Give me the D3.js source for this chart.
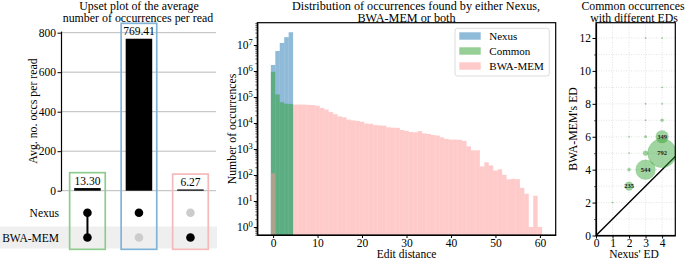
<!DOCTYPE html>
<html>
<head>
<meta charset="utf-8">
<script src="https://cdn.jsdelivr.net/npm/d3@7"></script>
<style>
  body { margin: 0; background: #fff; }
  svg { display: block; font-family: "Liberation Serif", "Times New Roman", serif; }
  svg text { font-family: "Liberation Serif", "Times New Roman", serif; }
  .domain { stroke: #000; }
  .tick line { stroke: #000; }
  .tick text { fill: #000; }
</style>
</head>
<body>
<div id="chart"></div>
<script>
// data

// left: upset plot
const upsetSets = ["Nexus", "BWA-MEM"];
const upsetGroups = ["Common", "Nexus only", "BWA-MEM only"];
const upsetMembers = [["Nexus", "BWA-MEM"], ["Nexus"], ["BWA-MEM"]];
const upsetAvg = [13.30, 769.41, 6.27];
const upsetColors = ["#8ecb8e", "#80b3d8", "#f6b9b9"];
const upsetTicks = [0, 200, 400, 600, 800];

// middle: histogram of edit distances (bins 0..60)
const editDistances = d3.range(0, 61);
const nexusCounts = [1700000, 5900000, 12000000, 20000000, 31000000];
const commonCounts = [930000, 126000, 63000, 55000, 54000];
const bwaCounts = [
  117, 0, 0, 0, 0, 51000, 51000, 51000, 50000, 49000,
  45700, 38000, 33000, 26300, 21900, 17800, 16600, 13500, 12600, 12000,
  11200, 9500, 9300, 8300, 8100, 7900, 6800, 6600, 6500, 5400,
  5000, 4500, 4400, 4900, 4000, 3800, 3470, 3300, 2800, 2450,
  2300, 2300, 2250, 2050, 1260, 890, 890, 214, 309, 234,
  148, 166, 102, 68, 71, 69, 32, 19, 1, 16,
  1
];
const histTicksX = [0, 10, 20, 30, 40, 50, 60];
const histTicksY = [1, 10, 100, 1000, 10000, 100000, 1000000, 10000000];
const histSeries = ["Nexus", "Common", "BWA-MEM"];
const histColors = ["#1f77b4", "#2ca02c", "#ff9896"];

// right: common occurrences with different EDs
const edNexus = [1, 2, 2, 2, 2, 3, 3, 3, 3, 3, 3, 4, 4, 4, 4, 4, 4];
const edBwa   = [2, 3, 4, 5, 6, 4, 5, 6, 7, 8, 12, 5, 6, 7, 8, 9, 12];
const edCount = [40, 235, 85, 35, 35, 544, 137, 66, 40, 40, 40, 792, 349, 82, 40, 40, 40];
const edLabelled = [235, 544, 349, 792];
const edTicksX = [0, 1, 2, 3, 4];
const edTicksY = [0, 2, 4, 6, 8, 10, 12];

// svg

const width = 685;
const height = 259;

const svg = d3.select("#chart")
  .append("svg")
  .attr("width", width)
  .attr("height", height)
  .attr("viewBox", [0, 0, width, height]);

const fs = 11.8;
const tickFs = 11.5;

function title(lines, xs, ys, size) {
  lines.forEach((t, i) => {
    svg.append("text")
      .attr("x", xs[i])
      .attr("y", ys[i])
      .attr("text-anchor", "middle")
      .attr("font-size", size)
      .text(t);
  });
}

function yLabel(t, x, y) {
  svg.append("text")
    .attr("transform", `translate(${x},${y}) rotate(-90)`)
    .attr("text-anchor", "middle")
    .attr("dy", "0.35em")
    .attr("font-size", fs)
    .text(t);
}

function styleAxis(g) {
  g.attr("font-family", null).attr("font-size", tickFs);
  g.selectAll(".tick text").attr("font-size", tickFs);
  g.selectAll(".domain").attr("stroke-width", 1.2);
}

// ---------- left panel: upset plot ----------

const yUp = d3.scaleLinear().domain([0, 808]).range([190.7, 31.1]);
const xUp = d3.scaleBand()
  .domain(upsetGroups)
  .range([61.7, 216.2])
  .paddingInner(0.485)
  .paddingOuter(0.2425);
const yRow = d3.scalePoint().domain(upsetSets).range([212.7, 237.5]);

// grey band behind the second row
svg.append("rect")
  .attr("x", 0)
  .attr("y", yRow("BWA-MEM") - 11)
  .attr("width", 217)
  .attr("height", 22)
  .attr("fill", "#efefef");

// grid
svg.append("g")
  .selectAll("line")
  .data(upsetTicks)
  .join("line")
  .attr("x1", 61)
  .attr("x2", 216)
  .attr("y1", d => yUp(d))
  .attr("y2", d => yUp(d))
  .attr("stroke", "#b3b3b3")
  .attr("stroke-width", 0.9);

svg.append("g")
  .attr("transform", "translate(61,0)")
  .call(d3.axisLeft(yUp).tickValues(upsetTicks).tickSize(3.5).tickSizeOuter(0).tickPadding(1.5))
  .call(styleAxis);

// bars
svg.selectAll("rect.upbar")
  .data(upsetGroups)
  .join("rect")
  .attr("class", "upbar")
  .attr("x", d => xUp(d))
  .attr("y", (d, i) => yUp(upsetAvg[i]))
  .attr("width", xUp.bandwidth())
  .attr("height", (d, i) => yUp(0) - yUp(upsetAvg[i]))
  .attr("fill", "#000");

svg.selectAll("text.uplabel")
  .data(upsetGroups)
  .join("text")
  .attr("class", "uplabel")
  .attr("x", d => xUp(d) + xUp.bandwidth() / 2)
  .attr("y", (d, i) => yUp(upsetAvg[i]) - 3.5)
  .attr("text-anchor", "middle")
  .attr("font-size", tickFs)
  .text((d, i) => upsetAvg[i].toFixed(2));

// outline boxes
svg.selectAll("rect.upbox")
  .data(upsetGroups)
  .join("rect")
  .attr("class", "upbox")
  .attr("x", d => xUp(d) + xUp.bandwidth() / 2 - 17.8)
  .attr("y", (d, i) => yUp(upsetAvg[i]) - 15.4)
  .attr("width", 35.6)
  .attr("height", (d, i) => 249.3 - (yUp(upsetAvg[i]) - 15.4))
  .attr("fill", "none")
  .attr("stroke", (d, i) => upsetColors[i])
  .attr("stroke-width", 1.7);

// matrix
upsetGroups.forEach((g, i) => {
  const cx = xUp(g) + xUp.bandwidth() / 2;
  const mem = upsetMembers[i];
  if (mem.length > 1) {
    svg.append("line")
      .attr("x1", cx).attr("x2", cx)
      .attr("y1", yRow(mem[0])).attr("y2", yRow(mem[mem.length - 1]))
      .attr("stroke", "#000")
      .attr("stroke-width", 2);
  }
  upsetSets.forEach(s => {
    svg.append("circle")
      .attr("cx", cx)
      .attr("cy", yRow(s))
      .attr("r", 4.3)
      .attr("fill", mem.includes(s) ? "#000" : "#cccccc");
  });
});

svg.selectAll("text.rowlabel")
  .data(upsetSets)
  .join("text")
  .attr("class", "rowlabel")
  .attr("x", 59)
  .attr("y", d => yRow(d) + 4)
  .attr("text-anchor", "end")
  .attr("font-size", tickFs)
  .text(d => d);

title(["Upset plot of the average", "number of occurrences per read"], [139, 138], [9.6, 22], 11.9);
yLabel("Avg. no. occs per read", 33, 111);

// ---------- middle panel: histogram ----------

const hx = d3.scaleLinear().domain([-3.55, 63.55]).range([257.3, 555.7]);
const hy = d3.scaleLog().domain([Math.pow(10, -0.308), Math.pow(10, 7.858)]).range([235, 22.7]);

const histData = [nexusCounts, commonCounts, bwaCounts];

svg.append("clipPath")
  .attr("id", "histClip")
  .append("rect")
  .attr("x", hx.range()[0]).attr("y", hy.range()[1])
  .attr("width", hx.range()[1] - hx.range()[0])
  .attr("height", hy.range()[0] - hy.range()[1]);

const gHist = svg.append("g").attr("clip-path", "url(#histClip)");

histData.forEach((counts, s) => {
  gHist.append("g")
    .selectAll("rect")
    .data(editDistances.filter(ed => counts[ed] > 0))
    .join("rect")
    .attr("x", ed => hx(ed - 0.5))
    .attr("width", ed => hx(ed + 0.5) - hx(ed - 0.5))
    .attr("y", ed => hy(counts[ed]))
    .attr("height", ed => hy.range()[0] - hy(counts[ed]))
    .attr("fill", histColors[s])
    .attr("fill-opacity", 0.5);
});

// minor ticks on the log axis
const minorY = [];
for (let e = -1; e <= 7; e++) {
  for (let m = 2; m <= 9; m++) {
    const v = m * Math.pow(10, e);
    if (v >= hy.domain()[0] && v <= hy.domain()[1]) minorY.push(v);
  }
}

svg.append("g")
  .attr("transform", `translate(${hx.range()[0]},0)`)
  .call(d3.axisLeft(hy).tickValues(minorY).tickSize(2).tickFormat("").tickSizeOuter(0))
  .call(g => g.select(".domain").remove())
  .call(g => g.selectAll(".tick line").attr("stroke-width", 0.6));

const gHy = svg.append("g")
  .attr("transform", `translate(${hx.range()[0]},0)`)
  .call(d3.axisLeft(hy).tickValues(histTicksY).tickSize(3.5).tickSizeOuter(0).tickPadding(1).tickFormat(""))
  .call(styleAxis);

gHy.selectAll(".tick text")
  .attr("dy", "0.32em")
  .each(function (d) {
    const t = d3.select(this);
    t.append("tspan").text("10");
    t.append("tspan")
      .attr("dy", "-0.45em")
      .attr("font-size", 8.5)
      .text(Math.round(Math.log10(d)));
  });

svg.append("g")
  .attr("transform", `translate(0,${hy.range()[0]})`)
  .call(d3.axisBottom(hx).tickValues(histTicksX).tickSize(3).tickSizeOuter(0).tickPadding(0.5))
  .call(styleAxis);

// frame
svg.append("rect")
  .attr("x", hx.range()[0]).attr("y", hy.range()[1])
  .attr("width", hx.range()[1] - hx.range()[0])
  .attr("height", hy.range()[0] - hy.range()[1])
  .attr("fill", "none")
  .attr("stroke", "#000")
  .attr("stroke-width", 1.2);

// legend
const lg = svg.append("g").attr("transform", "translate(455,28.3)");
lg.append("rect")
  .attr("width", 94.3).attr("height", 47.7)
  .attr("rx", 2.5)
  .attr("fill", "#fff").attr("fill-opacity", 0.8)
  .attr("stroke", "#d3d3d3").attr("stroke-width", 0.8);
histSeries.forEach((name, i) => {
  lg.append("rect")
    .attr("x", 4.3).attr("y", 7.7 + i * 15 - 3.7)
    .attr("width", 21.4).attr("height", 7.4)
    .attr("fill", histColors[i]).attr("fill-opacity", 0.5);
  lg.append("text")
    .attr("x", 34.3).attr("y", 7.7 + i * 15 + 3.8)
    .attr("font-size", 11)
    .text(name);
});

title(["Distribution of occurrences found by either Nexus,", "BWA-MEM or both"], [416, 406.5], [9.6, 22], 12.2);
yLabel("Number of occurrences", 231.5, 129);
svg.append("text")
  .attr("x", 406.5).attr("y", 258.3)
  .attr("text-anchor", "middle")
  .attr("font-size", 11.5)
  .text("Edit distance");

// ---------- right panel: ED scatter ----------

const ex = d3.scaleLinear().domain([0, 4.8]).range([596, 675.3]);
const ey = d3.scaleLinear().domain([0, 12.93]).range([235.5, 22.7]);
const er = d3.scaleLinear().domain([0, 792]).range([0, 14.4]);

svg.append("clipPath")
  .attr("id", "edClip")
  .append("rect")
  .attr("x", ex.range()[0]).attr("y", ey.range()[1])
  .attr("width", ex.range()[1] - ex.range()[0])
  .attr("height", ey.range()[0] - ey.range()[1]);

const gEd = svg.append("g").attr("clip-path", "url(#edClip)");

gEd.append("g")
  .selectAll("line")
  .data(edTicksX)
  .join("line")
  .attr("x1", d => ex(d)).attr("x2", d => ex(d))
  .attr("y1", ey.range()[0]).attr("y2", ey.range()[1])
  .attr("stroke", "#d9d9d9").attr("stroke-width", 0.7)
  .attr("stroke-dasharray", "1,1.5");

gEd.append("g")
  .selectAll("line")
  .data(d3.range(0, 13))
  .join("line")
  .attr("x1", ex.range()[0]).attr("x2", ex.range()[1])
  .attr("y1", d => ey(d)).attr("y2", d => ey(d))
  .attr("stroke", "#d9d9d9").attr("stroke-width", 0.7)
  .attr("stroke-dasharray", "1,1.5");

gEd.append("line")
  .attr("x1", ex(0)).attr("y1", ey(0))
  .attr("x2", ex(4.8)).attr("y2", ey(4.8))
  .attr("stroke", "#000")
  .attr("stroke-width", 1.4);

gEd.selectAll("circle")
  .data(edCount)
  .join("circle")
  .attr("cx", (d, i) => ex(edNexus[i]))
  .attr("cy", (d, i) => ey(edBwa[i]))
  .attr("r", d => er(d))
  .attr("fill", "#2ca02c")
  .attr("fill-opacity", 0.45)
  .attr("stroke", "#2ca02c")
  .attr("stroke-opacity", 0.25)
  .attr("stroke-width", 0.6);

gEd.selectAll("text")
  .data(edCount.map((c, i) => i).filter(i => edLabelled.includes(edCount[i])))
  .join("text")
  .attr("x", i => ex(edNexus[i]))
  .attr("y", i => ey(edBwa[i]))
  .attr("dy", "0.35em")
  .attr("text-anchor", "middle")
  .attr("font-size", 6.5)
  .attr("font-weight", "bold")
  .attr("fill", "#222")
  .text(i => edCount[i]);

svg.append("g")
  .attr("transform", `translate(${ex.range()[0]},0)`)
  .call(d3.axisLeft(ey).tickValues(d3.range(1, 13, 2)).tickSize(2).tickFormat("").tickSizeOuter(0))
  .call(g => g.select(".domain").remove())
  .call(g => g.selectAll(".tick line").attr("stroke-width", 0.6));

svg.append("g")
  .attr("transform", `translate(${ex.range()[0]},0)`)
  .call(d3.axisLeft(ey).tickValues(edTicksY).tickFormat(d3.format("d")).tickSize(3.5).tickSizeOuter(0).tickPadding(1.5))
  .call(styleAxis);

svg.append("g")
  .attr("transform", `translate(0,${ey.range()[0]})`)
  .call(d3.axisBottom(ex).tickValues(edTicksX).tickFormat(d3.format("d")).tickSize(3).tickSizeOuter(0).tickPadding(0))
  .call(styleAxis);

svg.append("rect")
  .attr("x", ex.range()[0]).attr("y", ey.range()[1])
  .attr("width", ex.range()[1] - ex.range()[0])
  .attr("height", ey.range()[0] - ey.range()[1])
  .attr("fill", "none")
  .attr("stroke", "#000")
  .attr("stroke-width", 1.2);

title(["Common occurrences", "with different EDs"], [633, 634], [9.6, 22], 11.8);
yLabel("BWA-MEM's ED", 573.3, 129);
svg.append("text")
  .attr("x", 634).attr("y", 258.3)
  .attr("text-anchor", "middle")
  .attr("font-size", 11.5)
  .text("Nexus' ED");
</script>
</body>
</html>
